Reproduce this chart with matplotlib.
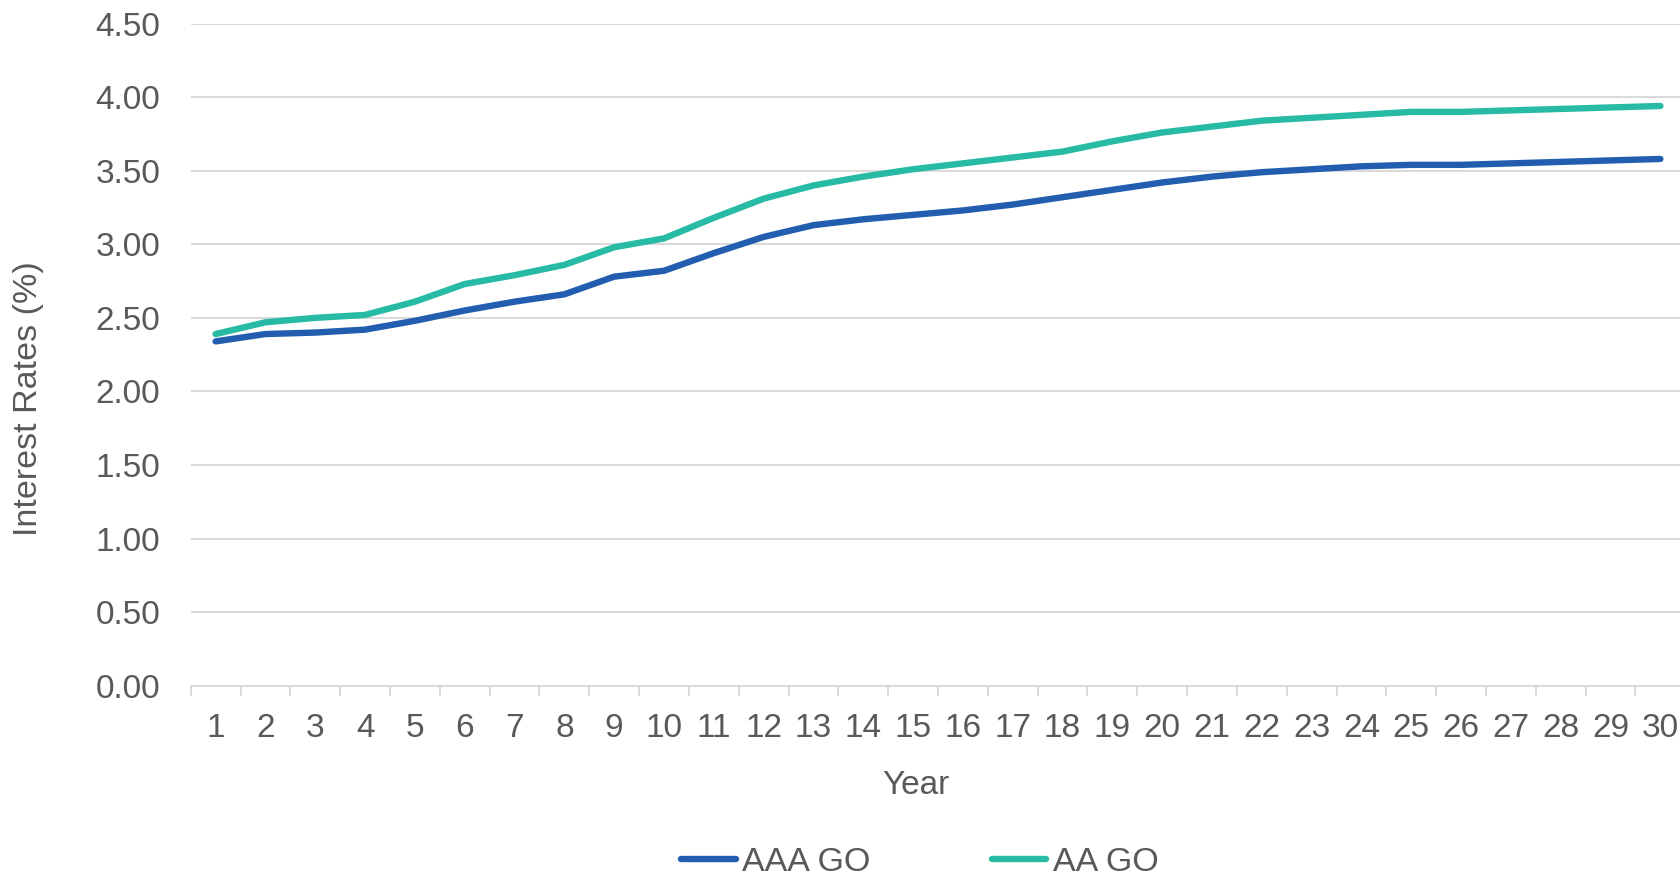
import matplotlib
matplotlib.use("Agg")
import matplotlib.pyplot as plt
from matplotlib.ticker import FixedLocator, FormatStrFormatter

# Yield curves by maturity year
years = list(range(1, 31))
aaa_go = [2.34, 2.39, 2.40, 2.42, 2.48, 2.55, 2.61, 2.66, 2.78, 2.82,
          2.94, 3.05, 3.13, 3.17, 3.20, 3.23, 3.27, 3.32, 3.37, 3.42,
          3.46, 3.49, 3.51, 3.53, 3.54, 3.54, 3.55, 3.56, 3.57, 3.58]
aa_go = [2.39, 2.47, 2.50, 2.52, 2.61, 2.73, 2.79, 2.86, 2.98, 3.04,
         3.18, 3.31, 3.40, 3.46, 3.51, 3.55, 3.59, 3.63, 3.70, 3.76,
         3.80, 3.84, 3.86, 3.88, 3.90, 3.90, 3.91, 3.92, 3.93, 3.94]
series_names = ["AAA GO", "AA GO"]
y_ticks = [0.0, 0.5, 1.0, 1.5, 2.0, 2.5, 3.0, 3.5, 4.0, 4.5]

TEXT = "#595959"
GRID = "#d9d9d9"
FS = 24.0

plt.rcParams["font.family"] = ["Liberation Sans", "DejaVu Sans"]

fig = plt.figure(figsize=(16.8, 8.72), dpi=100)
ax = fig.add_axes([0.11351, 0.21365, 0.88964, 0.7593])

ax.plot(years, aaa_go, color="#225db0", lw=4.6, solid_capstyle="round",
        solid_joinstyle="round", label=series_names[0], zorder=3)
ax.plot(years, aa_go, color="#27baa5", lw=4.6, solid_capstyle="round",
        solid_joinstyle="round", label=series_names[1], zorder=3)

ax.set_xlim(0.5, 30.5)
ax.set_ylim(0, 4.5)

ax.yaxis.set_major_locator(FixedLocator(y_ticks))
ax.yaxis.set_major_formatter(FormatStrFormatter("%.2f"))
ax.set_xticks(years)
ax.set_xticklabels([str(y) for y in years])
ax.xaxis.set_minor_locator(FixedLocator([y + 0.5 for y in range(0, 31)]))

ax.grid(axis="y", color=GRID, lw=1.4, zorder=0)
ax.set_axisbelow(True)
for side in ("top", "right", "left"):
    ax.spines[side].set_visible(False)
ax.spines["bottom"].set_color(GRID)
ax.spines["bottom"].set_linewidth(1.4)

ax.tick_params(axis="y", length=0, pad=22, labelsize=FS, labelcolor=TEXT)
ax.tick_params(axis="x", which="major", length=0, pad=20, labelsize=FS,
               labelcolor=TEXT)
ax.tick_params(axis="x", which="minor", length=7, width=1.4, color=GRID)

ax.set_ylabel("Interest Rates (%)", fontsize=24.5, color=TEXT)
ax.yaxis.label.set_verticalalignment("center")
ax.yaxis.label.set_rotation_mode("anchor")
ax.yaxis.set_label_coords(-0.1087, 0.4338)

ax.set_xlabel("Year", fontsize=FS, color=TEXT)
ax.xaxis.label.set_verticalalignment("baseline")
ax.xaxis.set_label_coords(0.4853, (685.7 - 794.0) / 662.1)

fig.legend(loc="center", bbox_to_anchor=(0.5475, 0.0107), ncol=2,
           frameon=False, fontsize=24.5, labelcolor=TEXT, handlelength=1.6,
           handletextpad=0.2, columnspacing=3.55, borderpad=0,
           borderaxespad=0)

fig.savefig("out.png", dpi=100)
